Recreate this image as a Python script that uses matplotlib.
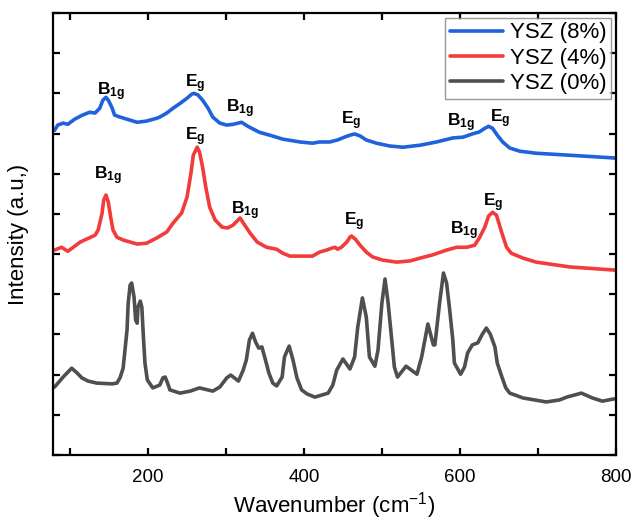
import matplotlib
matplotlib.use('Agg')
import matplotlib.pyplot as plt
from matplotlib.ticker import MultipleLocator

plt.rcParams['font.family'] = ['Liberation Sans', 'DejaVu Sans']
plt.rcParams['mathtext.fontset'] = 'custom'
plt.rcParams['mathtext.rm'] = 'Liberation Sans'
plt.rcParams['mathtext.bf'] = 'Liberation Sans:bold'

# Raman spectra, stacked with vertical offsets
wn_0 = [80, 91, 102, 109, 115, 123, 134, 154, 160, 164, 168, 170, 173, 174.5, 177, 179, 182,
        184, 186, 187, 190, 192, 194, 196, 199, 206, 215, 219, 222, 225, 228, 241, 254, 266,
        283, 292, 301, 306, 316, 322, 326, 330, 334, 338, 342, 346, 350, 355, 360, 365, 372,
        375, 381, 386, 391, 397, 404, 414, 431, 437, 442, 450, 459, 465, 469, 475, 480, 484,
        491, 495, 500, 504, 508, 513, 516, 520, 531, 545, 551, 559, 566, 568, 574, 579, 583,
        587, 591, 593, 601, 606, 610, 616, 623, 629, 634, 639, 645, 648, 654, 659, 664, 681,
        711, 728, 737, 756, 770, 783, 796, 800]
int_0 = [1.69, 1.94, 2.16, 2.04, 1.92, 1.84, 1.79, 1.77, 1.79, 1.92, 2.16, 2.54, 3.11, 3.78,
         4.23, 4.28, 3.93, 3.36, 3.28, 3.68, 3.83, 3.68, 2.94, 2.29, 1.87, 1.67, 1.74, 1.92,
         1.94, 1.79, 1.62, 1.54, 1.59, 1.67, 1.59, 1.69, 1.92, 1.99, 1.84, 2.11, 2.36, 2.86,
         3.03, 2.81, 2.66, 2.69, 2.41, 2.04, 1.79, 1.72, 1.94, 2.44, 2.71, 2.36, 1.92, 1.62,
         1.52, 1.44, 1.54, 1.74, 2.11, 2.39, 2.14, 2.44, 3.18, 3.91, 3.43, 2.44, 2.21, 2.61,
         3.78, 4.38, 3.78, 2.79, 2.19, 1.94, 2.21, 2.01, 2.44, 3.26, 2.74, 2.74, 3.78, 4.53,
         4.28, 3.61, 2.86, 2.29, 2.01, 2.19, 2.54, 2.74, 2.79, 3.01, 3.16, 3.01, 2.69, 2.29,
         1.94, 1.67, 1.54, 1.42, 1.32, 1.37, 1.44, 1.54, 1.42, 1.34, 1.39, 1.40]

wn_4 = [80, 89, 97, 113, 132, 136, 141, 143, 146, 149, 152, 155, 160, 168, 186, 198, 211, 224,
        232, 243, 250, 255, 258, 263, 266, 270, 274, 279, 286, 295, 302, 309, 318, 324, 331,
        340, 352, 365, 373, 382, 411, 420, 429, 436, 440, 443, 448, 455, 459, 461, 466, 472,
        480, 488, 501, 519, 536, 549, 565, 583, 596, 609, 619, 625, 632, 637, 642, 647, 654,
        660, 666, 681, 698, 741, 800]
int_4 = [5.10, 5.17, 5.07, 5.30, 5.47, 5.60, 6.02, 6.34, 6.47, 6.29, 5.92, 5.60, 5.42, 5.35,
         5.25, 5.27, 5.40, 5.55, 5.77, 6.02, 6.42, 7.01, 7.46, 7.66, 7.54, 7.16, 6.67, 6.17,
         5.85, 5.67, 5.65, 5.72, 5.90, 5.72, 5.52, 5.30, 5.17, 5.12, 5.02, 4.95, 4.95, 5.05,
         5.10, 5.15, 5.17, 5.12, 5.17, 5.30, 5.42, 5.45, 5.37, 5.22, 5.05, 4.93, 4.85, 4.80,
         4.83, 4.90, 4.98, 5.10, 5.17, 5.17, 5.22, 5.40, 5.67, 5.95, 6.04, 5.97, 5.52, 5.17,
         5.02, 4.90, 4.80, 4.68, 4.60]

wn_8 = [80, 84, 91, 97, 106, 116, 125, 132, 138, 142, 146, 149, 154, 157, 164, 186, 198, 211,
        215, 224, 232, 241, 250, 256, 259, 264, 270, 277, 283, 292, 301, 309, 320, 328, 343,
        356, 373, 395, 411, 420, 433, 443, 452, 459, 465, 472, 480, 493, 510, 527, 549, 570,
        591, 604, 616, 625, 632, 637, 642, 648, 655, 664, 677, 698, 741, 800]
int_8 = [8.08, 8.21, 8.26, 8.23, 8.36, 8.46, 8.53, 8.51, 8.63, 8.83, 8.90, 8.83, 8.63, 8.46,
         8.41, 8.28, 8.31, 8.38, 8.41, 8.51, 8.63, 8.75, 8.88, 8.98, 9.00, 8.96, 8.83, 8.63,
         8.41, 8.26, 8.21, 8.23, 8.28, 8.18, 8.03, 7.96, 7.86, 7.79, 7.76, 7.79, 7.79, 7.84,
         7.91, 7.96, 7.99, 7.94, 7.84, 7.76, 7.69, 7.66, 7.71, 7.79, 7.89, 7.91, 7.99, 8.04,
         8.13, 8.18, 8.13, 7.96, 7.79, 7.64, 7.56, 7.51, 7.46, 7.39]

# mode labels: (text, x, y)
modes_8 = [(r'$\mathbf{B_{1g}}$', 152, 9.05), (r'$\mathbf{E_{g}}$', 261, 9.25),
           (r'$\mathbf{B_{1g}}$', 318, 8.63), (r'$\mathbf{E_{g}}$', 461, 8.33),
           (r'$\mathbf{B_{1g}}$', 601, 8.26), (r'$\mathbf{E_{g}}$', 652, 8.36)]
modes_4 = [(r'$\mathbf{B_{1g}}$', 149, 6.94), (r'$\mathbf{E_{g}}$', 261, 7.91),
           (r'$\mathbf{B_{1g}}$', 324, 6.07), (r'$\mathbf{E_{g}}$', 464, 5.80),
           (r'$\mathbf{B_{1g}}$', 606, 5.57), (r'$\mathbf{E_{g}}$', 643, 6.27)]

fig = plt.figure(figsize=(6.33, 5.2), dpi=100)
ax = fig.add_axes([0.0837, 0.125, 0.889, 0.85])

line_kw = dict(lw=2.6, solid_joinstyle='round', solid_capstyle='round')
ax.plot(wn_8, int_8, color='#1f62dc', label='YSZ (8%)', **line_kw)
ax.plot(wn_4, int_4, color='#f23b3b', label='YSZ (4%)', **line_kw)
ax.plot(wn_0, int_0, color='#4f4f4f', label='YSZ (0%)', **line_kw)

for txt, x, y in modes_8 + modes_4:
    ax.text(x, y, txt, ha='center', va='center', fontsize=12.5)

ax.set_xlim(78, 800)
ax.set_ylim(0, 11)
ax.xaxis.set_major_locator(MultipleLocator(200))
ax.xaxis.set_minor_locator(MultipleLocator(100))
ax.yaxis.set_major_locator(MultipleLocator(1))
ax.set_yticklabels([])
ax.tick_params(which='both', direction='in', top=True, right=True, length=5, width=1.6,
               labelsize=13.5, pad=10)
for s in ax.spines.values():
    s.set_linewidth(1.6)

ax.set_xlabel('Wavenumber (cm$^{-1}$)', fontsize=16, labelpad=3)
ax.set_ylabel('Intensity (a.u,)', fontsize=16, labelpad=7)

leg = ax.legend(loc='upper right', fontsize=16, fancybox=False, handlelength=2.4,
                handletextpad=0.3, labelspacing=0.2, borderpad=0.2, borderaxespad=0.22)
leg.get_frame().set_edgecolor('#808080')
leg.get_frame().set_linewidth(1.0)

fig.savefig('out.png', dpi=100)
